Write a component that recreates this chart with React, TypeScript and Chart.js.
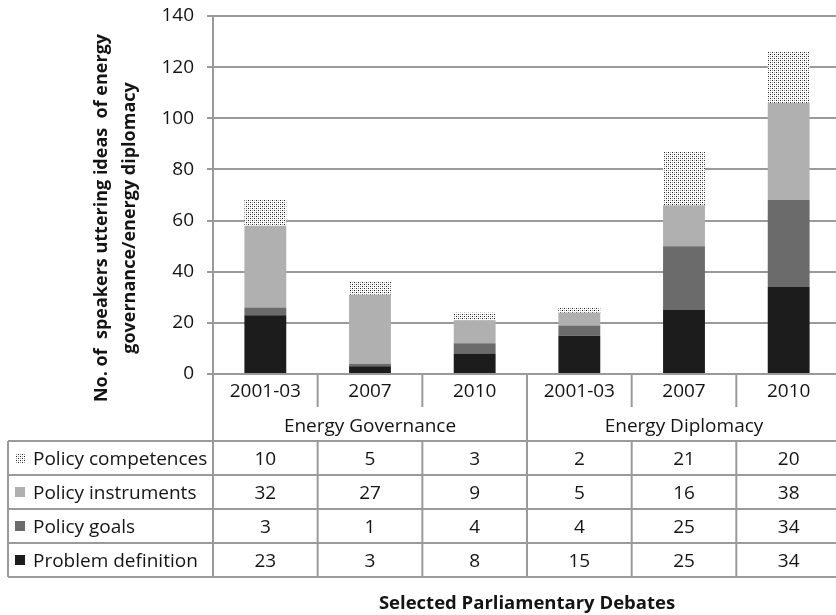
import React, { useEffect, useRef } from 'react';
import { Chart, registerables } from 'chart.js';

Chart.register(...registerables);

const categories = ['2001-03', '2007', '2010', '2001-03', '2007', '2010'];
const groups = ['Energy Governance', 'Energy Diplomacy'];
const groupSizes = [3, 3];

const seriesNames = ['Problem definition', 'Policy goals', 'Policy instruments', 'Policy competences'];
const problemDefinition = [23, 3, 8, 15, 25, 34];
const policyGoals = [3, 1, 4, 4, 25, 34];
const policyInstruments = [32, 27, 9, 5, 16, 38];
const policyCompetences = [10, 5, 3, 2, 21, 20];

const yTicksMax = 140;
const yTicksStep = 20;

const yTitleLines = ['No. of  speakers uttering ideas  of energy', 'governance/energy diplomacy'];
const xTitle = 'Selected Parliamentary Debates';

const FONT = '"Open Sans", "DejaVu Sans", sans-serif';
const LINE = '#9a9a9a';
const TEXT = '#141414';

function makeDotPattern(): CanvasPattern | string {
  const tile = document.createElement('canvas');
  tile.width = 4;
  tile.height = 4;
  const c = tile.getContext('2d');
  if (!c) return '#ccc';
  c.fillStyle = '#ffffff';
  c.fillRect(0, 0, 4, 4);
  c.fillStyle = '#222222';
  c.fillRect(0, 0, 1, 1);
  c.fillRect(2, 2, 1, 1);
  c.fillStyle = '#9a9a9a';
  c.fillRect(0, 2, 1, 1);
  c.fillRect(2, 0, 1, 1);
  const p = c.createPattern(tile, 'repeat');
  return p || '#ccc';
}

export default function App() {
  const ref = useRef<HTMLCanvasElement>(null);

  useEffect(() => {
    document.body.style.margin = '0';
    const canvas = ref.current;
    if (!canvas) return;
    const dots = makeDotPattern();
    const colors: (string | CanvasPattern)[] = ['#1c1c1c', '#6b6b6b', '#b0b0b0', dots];
    const values = [problemDefinition, policyGoals, policyInstruments, policyCompetences];

    const tablePlugin = {
      id: 'dataTable',
      afterDraw(chart: any) {
        const { ctx, chartArea } = chart;
        const xs = chart.scales.x;
        const n = categories.length;
        const step = xs.getPixelForValue(1) - xs.getPixelForValue(0);
        const edges: number[] = [];
        for (let i = 0; i < n; i++) edges.push(xs.getPixelForValue(i) - step / 2);
        edges.push(xs.getPixelForValue(n - 1) + step / 2);

        const top = chartArea.bottom;
        const catDividerBottom = top + 33;
        const tableTop = top + 67;
        const rowH = 34;
        const rows = seriesNames.length;
        const bottom = tableTop + rowH * rows;
        const tableLeft = 8;

        ctx.save();
        ctx.strokeStyle = LINE;
        ctx.lineWidth = 2;
        const vline = (x: number, y0: number, y1: number) => {
          ctx.beginPath();
          ctx.moveTo(x, y0);
          ctx.lineTo(x, y1);
          ctx.stroke();
        };
        const hline = (y: number, x0: number, x1: number) => {
          ctx.beginPath();
          ctx.moveTo(x0, y);
          ctx.lineTo(x1, y);
          ctx.stroke();
        };
        const groupEdgeIdx: number[] = [0];
        let acc = 0;
        groupSizes.forEach((s) => {
          acc += s;
          groupEdgeIdx.push(acc);
        });
        for (let i = 0; i <= n; i++) {
          if (groupEdgeIdx.includes(i)) {
            vline(edges[i], top, bottom);
          } else {
            vline(edges[i], top, catDividerBottom);
            vline(edges[i], tableTop, bottom);
          }
        }
        for (let r = 0; r <= rows; r++) hline(tableTop + r * rowH, tableLeft, edges[n]);
        vline(tableLeft, tableTop, bottom);

        ctx.fillStyle = TEXT;
        ctx.font = `19px ${FONT}`;
        ctx.textAlign = 'center';
        ctx.textBaseline = 'alphabetic';
        for (let i = 0; i < n; i++) {
          ctx.fillText(categories[i], (edges[i] + edges[i + 1]) / 2, top + 23);
        }
        groups.forEach((g, gi) => {
          const a = edges[groupEdgeIdx[gi]];
          const b = edges[groupEdgeIdx[gi + 1]];
          ctx.fillText(g, (a + b) / 2, top + 58);
        });
        for (let r = 0; r < rows; r++) {
          const si = rows - 1 - r;
          const cy = tableTop + r * rowH + rowH / 2;
          ctx.textAlign = 'center';
          for (let i = 0; i < n; i++) {
            ctx.fillText(String(values[si][i]), (edges[i] + edges[i + 1]) / 2, cy + 6.5);
          }
          ctx.fillStyle = colors[si] as any;
          ctx.fillRect(15, cy - 5, 10, 10);
          ctx.fillStyle = TEXT;
          ctx.textAlign = 'left';
          ctx.fillText(seriesNames[si], 33, cy + 6.5);
        }

        ctx.font = `bold 18.5px ${FONT}`;
        ctx.textAlign = 'center';
        ctx.fillText(xTitle, (chartArea.left + chartArea.right) / 2, 609);

        ctx.font = `bold 18px ${FONT}`;
        const baselines = [107, 135];
        yTitleLines.forEach((t, li) => {
          ctx.save();
          ctx.translate(baselines[li], 218);
          ctx.rotate(-Math.PI / 2);
          ctx.textAlign = 'center';
          ctx.fillText(t, 0, 0);
          ctx.restore();
        });
        ctx.restore();
      },
    };

    const chart = new Chart(canvas, {
      type: 'bar',
      data: {
        labels: categories,
        datasets: seriesNames.map((name, i) => ({
          label: name,
          data: values[i],
          backgroundColor: colors[i] as any,
          borderWidth: 0,
          barPercentage: 0.4,
          categoryPercentage: 1,
        })),
      },
      options: {
        responsive: false,
        animation: false,
        devicePixelRatio: 1,
        layout: { padding: { left: 0, top: 16, right: 5, bottom: 241 } },
        plugins: { legend: { display: false }, tooltip: { enabled: false } },
        scales: {
          x: { stacked: true, display: false },
          y: {
            stacked: true,
            min: 0,
            max: yTicksMax,
            ticks: {
              stepSize: yTicksStep,
              padding: 13,
              color: TEXT,
              font: { family: FONT, size: 19 },
            },
            grid: { color: LINE, lineWidth: 2, tickLength: 6, tickColor: LINE },
            border: { display: true, color: LINE, width: 2 },
            afterFit(scale: any) {
              scale.width = 213;
              scale.paddingTop = 0;
              scale.paddingBottom = 0;
            },
          },
        },
      },
      plugins: [tablePlugin],
    });
    return () => chart.destroy();
  }, []);

  return (
    <div style={{ width: 836, height: 615, overflow: 'hidden', position: 'relative' }}>
      <canvas ref={ref} width={846} height={615} style={{ display: 'block', width: 846, height: 615 }} />
    </div>
  );
}
